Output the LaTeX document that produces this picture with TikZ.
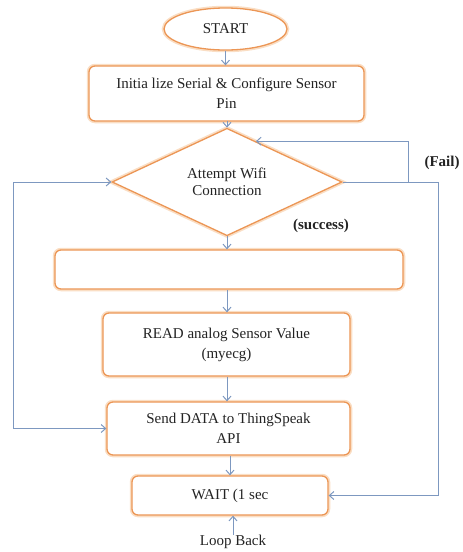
\documentclass[tikz,border=0pt]{standalone}
\usepackage{fontspec}
\setmainfont{Liberation Serif}
\usetikzlibrary{shapes.geometric,arrows.meta,calc}
\definecolor{boxline}{RGB}{236,150,85}
\definecolor{boxglow}{RGB}{250,222,196}
\definecolor{conn}{RGB}{125,152,192}
\definecolor{txt}{RGB}{35,35,35}
\tikzset{
  glow/.style={draw=boxline, line width=1.3pt, fill=white,
    preaction={draw=boxglow, line width=4.5pt},
    text=txt, align=center, inner sep=0pt,
    font=\fontsize{15}{20}\selectfont},
  procbox/.style={glow, rectangle, rounded corners=6pt},
  termbox/.style={glow, ellipse},
  decbox/.style={glow, diamond, font=\fontsize{15}{17}\selectfont},
  conn/.style={draw=conn, line width=1pt, -{Straight Barb[length=4.5pt,width=8pt]}},
  plain/.style={draw=conn, line width=1pt},
  lbl/.style={text=txt, font=\fontsize{15}{18}\selectfont\bfseries, inner sep=0pt},
  note/.style={text=txt, font=\fontsize{15}{18}\selectfont, inner sep=0pt}
}
\begin{document}
\begin{tikzpicture}[x=1pt,y=-1pt]
\useasboundingbox (0,0) rectangle (463,552);
\node[termbox, minimum width=123pt, minimum height=42pt] (start) at (225.5,29) {START};
\node[procbox, minimum width=275pt, minimum height=55pt] (init) at (226.5,93.5) {Initia lize Serial \& Configure Sensor\\Pin};
\node[decbox, minimum width=230pt, minimum height=91pt] (dec) at (227,182) {Attempt Wifi\\Connection};
\node[procbox, minimum width=348pt, minimum height=39pt] (empty) at (229,269.5) {};
\node[procbox, minimum width=247pt, minimum height=63pt] (read) at (226.5,344.5) {READ analog Sensor Value\\(myecg)};
\node[procbox, minimum width=243pt, minimum height=53pt] (send) at (228.5,428.5) {Send DATA to ThingSpeak\\API};
\node[procbox, minimum width=196pt, minimum height=39pt] (wait) at (230,495.5) {WAIT (1 sec};
\node[note, anchor=north] (loop) at (233,535) {Loop Back};
\node[lbl] (fail) at (442,163) {(Fail)};
\node[lbl] (succ) at (321,226) {(success)};

\draw[conn] (start.south) -- (start.south |- init.north);
\draw[conn] (init.south) -- (init.south -| dec.north) -- (dec.north);
\draw[conn] (dec.south) -- (dec.south |- empty.north);
\draw[conn] (dec.south |- empty.south) -- (dec.south |- read.north);
\draw[conn] (dec.south |- read.south) -- (dec.south |- send.north);
\draw[conn] (wait.north |- send.south) -- (wait.north);
\draw[conn] (loop.north) -- (loop.north |- wait.south);

\coordinate (fr) at (438,182);
\coordinate (fu) at (408,182);
\coordinate (fe) at ($(dec.north)!0.25!(dec.east)$);
\draw[plain] (dec.east) -- (fr);
\draw[conn] (fr) |- (wait.east);
\draw[conn] (fu) |- (fe);

\coordinate (lt) at (13,182);
\coordinate (lb) at (13,428.5);
\draw[conn] (lt) -- (dec.west);
\draw[conn] (lt) -- (lb) -- (send.west);
\end{tikzpicture}
\end{document}
